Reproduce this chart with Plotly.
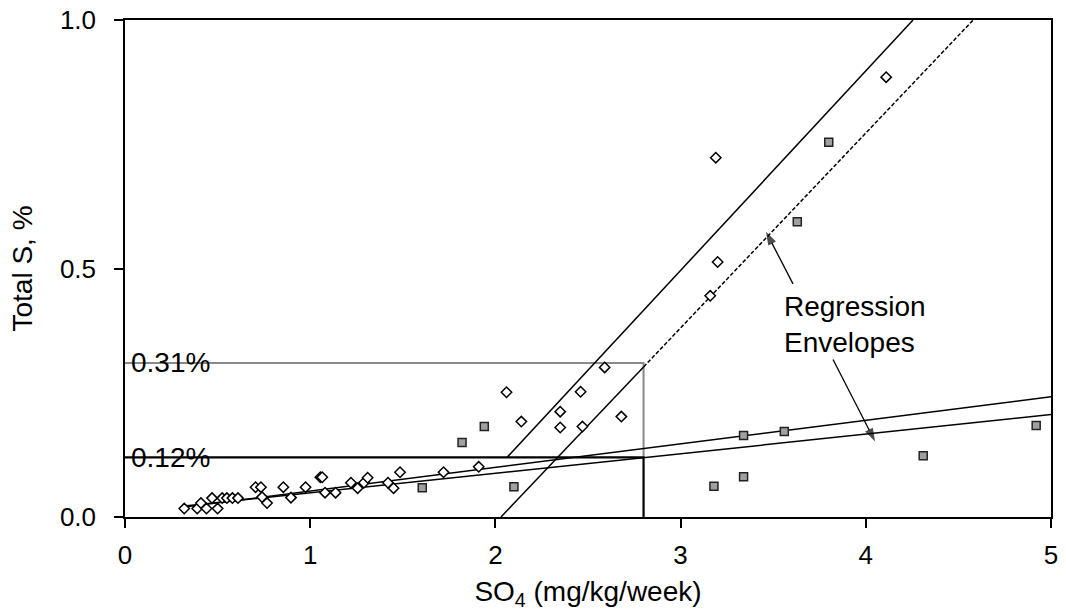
import plotly.graph_objects as go

# ---- data ----
diamond_x = [0.32, 0.39, 0.41, 0.44, 0.47, 0.50, 0.525, 0.55, 0.58, 0.61,
             0.705, 0.734, 0.74, 0.767, 0.855, 0.896, 0.975, 1.055, 1.065, 1.08,
             1.137, 1.22, 1.256, 1.29, 1.31, 1.42, 1.45, 1.485, 1.72, 1.91,
             2.06, 2.14, 2.35, 2.35, 2.46, 2.47, 2.59, 2.68, 3.16, 3.19, 3.20, 4.11]
diamond_y = [0.017, 0.017, 0.028, 0.017, 0.038, 0.017, 0.038, 0.038, 0.038, 0.038,
             0.060, 0.060, 0.040, 0.028, 0.060, 0.039, 0.060, 0.080, 0.080, 0.049,
             0.049, 0.069, 0.058, 0.069, 0.079, 0.069, 0.058, 0.090, 0.090, 0.101,
             0.251, 0.192, 0.212, 0.180, 0.252, 0.182, 0.301, 0.202, 0.445, 0.723, 0.513, 0.885]

square_x = [1.605, 1.82, 1.94, 2.10, 3.18, 3.34, 3.34, 3.56, 3.63, 3.80, 4.31, 4.92]
square_y = [0.059, 0.150, 0.182, 0.061, 0.062, 0.081, 0.164, 0.172, 0.594, 0.754, 0.123, 0.184]

# regression envelopes (end points)
steep_upper_x = [2.063, 4.255]
steep_upper_y = [0.12, 1.0]
steep_lower_solid_x = [2.03, 2.80]
steep_lower_solid_y = [0.0, 0.302]
steep_lower_dash_x = [2.80, 4.58]
steep_lower_dash_y = [0.302, 1.0]
shallow_upper_x = [0.32, 5.0]
shallow_upper_y = [0.020, 0.242]
shallow_lower_x = [0.32, 5.0]
shallow_lower_y = [0.022, 0.206]

# reference guide lines
ref_x = 2.8
ref_hi = 0.31
ref_lo = 0.12
ref_labels = ["0.31%", "0.12%"]

# pointer arrows (tail -> head)
arrow1_x = [3.607, 3.461]
arrow1_y = [0.469, 0.574]
arrow2_x = [3.823, 4.05]
arrow2_y = [0.317, 0.152]

x_ticks = [0, 1, 2, 3, 4, 5]
y_ticks = [0.0, 0.5, 1.0]

FONT = "Arial, Liberation Sans, Helvetica, sans-serif"

fig = go.Figure()

# guide lines
fig.add_trace(go.Scatter(x=[0, ref_x, ref_x], y=[ref_hi, ref_hi, ref_lo], mode="lines",
                         line=dict(color="#8a8a8a", width=2), hoverinfo="skip", showlegend=False))
fig.add_trace(go.Scatter(x=[0, ref_x, ref_x], y=[ref_lo, ref_lo, 0], mode="lines",
                         line=dict(color="black", width=2.2), hoverinfo="skip", showlegend=False))

# regression envelopes
for xs, ys, dash in [(steep_upper_x, steep_upper_y, "solid"),
                     (steep_lower_solid_x, steep_lower_solid_y, "solid"),
                     (steep_lower_dash_x, steep_lower_dash_y, "4px,2px"),
                     (shallow_upper_x, shallow_upper_y, "solid"),
                     (shallow_lower_x, shallow_lower_y, "solid")]:
    fig.add_trace(go.Scatter(x=xs, y=ys, mode="lines",
                             line=dict(color="black", width=1.5, dash=dash),
                             hoverinfo="skip", showlegend=False))

# arrows
for ax_, ay_ in [(arrow1_x, arrow1_y), (arrow2_x, arrow2_y)]:
    fig.add_trace(go.Scatter(x=ax_, y=ay_, mode="lines+markers",
                             line=dict(color="black", width=1.3),
                             marker=dict(symbol="arrow", size=[0, 14], color="black",
                                         angleref="previous", line=dict(width=0)),
                             hoverinfo="skip", showlegend=False))

# data points
fig.add_trace(go.Scatter(x=diamond_x, y=diamond_y, mode="markers",
                         marker=dict(symbol="diamond", size=8, color="white",
                                     line=dict(color="black", width=1.5)),
                         showlegend=False))
fig.add_trace(go.Scatter(x=square_x, y=square_y, mode="markers",
                         marker=dict(symbol="square", size=8, color="#a0a0a0",
                                     line=dict(color="#222222", width=1.5)),
                         showlegend=False))

# labels
for lvl, txt in zip([ref_hi, ref_lo], ref_labels):
    fig.add_annotation(x=0, y=lvl, xref="x", yref="y", text=txt, showarrow=False,
                       xanchor="left", yanchor="middle", xshift=4,
                       font=dict(family=FONT, size=28, color="black"))

fig.add_annotation(x=3.55, y=0.388, xref="x", yref="y",
                   text="Regression<br>Envelopes", showarrow=False,
                   xanchor="left", yanchor="middle", align="left",
                   font=dict(family=FONT, size=28, color="black"))

fig.update_layout(
    width=1066, height=611,
    margin=dict(l=125, r=15, t=20, b=94, autoexpand=False),
    paper_bgcolor="white", plot_bgcolor="white",
    font=dict(family=FONT, size=26, color="black"),
    showlegend=False,
)
fig.update_xaxes(range=[0, 5], tickvals=x_ticks, ticks="outside", ticklen=9,
                 tickwidth=1.5, tickcolor="black", automargin=False, ticklabelstandoff=5,
                 ticklabeloverflow="allow",
                 showline=True, linecolor="black", linewidth=1.5, mirror=True,
                 showgrid=False, zeroline=False,
                 tickfont=dict(family=FONT, size=26),
                 title=dict(text="SO<sub>4</sub> (mg/kg/week)", font=dict(family=FONT, size=28),
                            standoff=26))
fig.update_yaxes(range=[0, 1], tickvals=y_ticks, tickformat=".1f", ticks="outside", ticklen=9,
                 tickwidth=1.5, tickcolor="black", automargin=False, ticklabelstandoff=13,
                 ticklabeloverflow="allow",
                 showline=True, linecolor="black", linewidth=1.5, mirror=True,
                 showgrid=False, zeroline=False,
                 tickfont=dict(family=FONT, size=26),
                 title=dict(text="Total S, %", font=dict(family=FONT, size=28), standoff=19))

fig.write_html("out.html", config={"displayModeBar": False},
               post_script="document.body.style.margin='0px';")
